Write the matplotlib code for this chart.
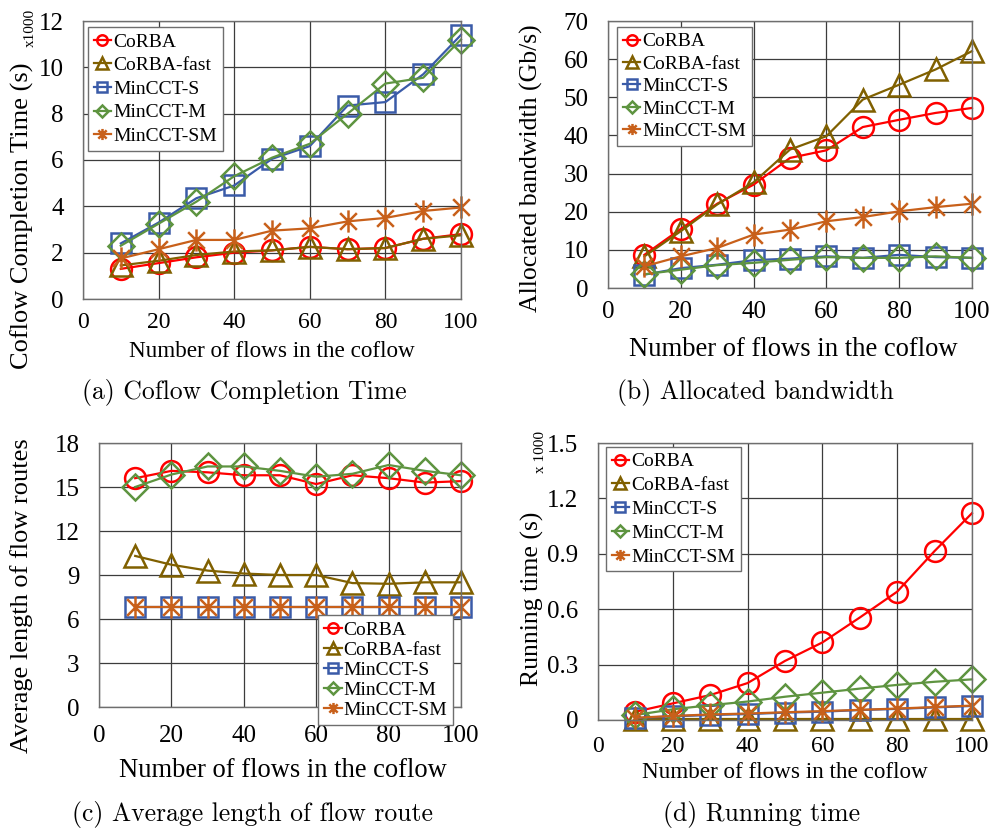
import numpy as np
import matplotlib
matplotlib.use("Agg")
import matplotlib.pyplot as plt
from matplotlib.path import Path

plt.rcParams["font.family"] = ["Liberation Serif", "DejaVu Serif"]

flows = [10, 20, 30, 40, 50, 60, 70, 80, 90, 100]
names = ["CoRBA", "CoRBA-fast", "MinCCT-S", "MinCCT-M", "MinCCT-SM"]

# (a) coflow completion time, x1000 s
cct_corba = [1.3, 1.55, 1.8, 2.0, 2.1, 2.25, 2.15, 2.2, 2.6, 2.8]
cct_fast = [1.45, 1.65, 1.9, 2.05, 2.1, 2.25, 2.15, 2.2, 2.6, 2.75]
cct_s = [2.4, 3.3, 4.35, 4.9, 6.05, 6.6, 8.35, 8.5, 9.7, 11.4]
cct_m = [2.3, 3.25, 4.2, 5.3, 6.1, 6.7, 8.0, 9.3, 9.55, 11.2]
cct_sm = [1.75, 2.15, 2.55, 2.55, 2.95, 3.05, 3.35, 3.5, 3.8, 3.95]

# (b) allocated bandwidth, Gb/s
bw_corba = [8.7, 15.5, 22.1, 27.1, 34.1, 36.1, 42.2, 44.1, 45.9, 47.2]
bw_fast = [8.3, 14.9, 21.9, 27.7, 36.3, 39.8, 49.4, 53.3, 57.3, 62.1]
bw_s = [3.5, 5.2, 6.1, 7.3, 7.7, 8.3, 7.9, 8.7, 8.1, 7.9]
bw_m = [3.6, 4.8, 6.0, 6.6, 7.4, 8.1, 7.9, 7.9, 8.3, 7.9]
bw_sm = [5.7, 8.3, 10.5, 14.0, 15.3, 17.5, 18.6, 20.1, 21.2, 22.1]

# (c) average route length
len_corba = [15.6, 16.1, 16.0, 15.8, 15.8, 15.2, 15.8, 15.6, 15.3, 15.4]
len_fast = [10.3, 9.7, 9.3, 9.1, 9.0, 9.0, 8.45, 8.4, 8.5, 8.5]
len_s = [6.8, 6.8, 6.8, 6.8, 6.8, 6.8, 6.8, 6.8, 6.8, 6.8]
len_m = [15.0, 15.85, 16.4, 16.4, 16.1, 15.7, 15.9, 16.5, 16.1, 15.8]
len_sm = [6.8, 6.8, 6.8, 6.8, 6.8, 6.8, 6.8, 6.8, 6.8, 6.8]

# (d) running time, x1000 s
rt_corba = [0.045, 0.09, 0.135, 0.2, 0.32, 0.42, 0.555, 0.695, 0.915, 1.12]
rt_fast = [0.003, 0.003, 0.003, 0.003, 0.003, 0.003, 0.003, 0.003, 0.003, 0.003]
rt_s = [0.01, 0.02, 0.027, 0.032, 0.04, 0.045, 0.054, 0.06, 0.068, 0.076]
rt_m = [0.027, 0.058, 0.08, 0.1, 0.126, 0.148, 0.17, 0.19, 0.207, 0.22]
rt_sm = [0.012, 0.022, 0.03, 0.035, 0.042, 0.048, 0.055, 0.062, 0.07, 0.078]

colors = ["#FF0000", "#806000", "#3A5BA8", "#5E9440", "#C8601A"]

star = Path([(0, -1), (0, 1), (-0.75, -0.75), (0.75, 0.75), (-0.75, 0.75), (0.75, -0.75)],
			[Path.MOVETO, Path.LINETO, Path.MOVETO, Path.LINETO, Path.MOVETO, Path.LINETO])
markers = ["o", "^", "s", "D", star]
msizes = [15, 16, 15, 13, 16]

W, H = 995, 834
fig = plt.figure(figsize=(W / 100, H / 100), dpi=100)


def px_axes(l, t, r, b):
	return fig.add_axes([l / W, 1 - b / H, (r - l) / W, (b - t) / H])


def draw(ax, series, ymax, ystep, xfs, xpad):
	for ys, name, c, m, ms in zip(series, names, colors, markers, msizes):
		ax.plot(flows, ys, color=c, lw=1.6, marker=m, ms=ms, mfc="none",
				mec=c, mew=1.8, label=name, clip_on=False)
	ax.set_xlim(0, 100)
	ax.set_ylim(0, ymax)
	ax.set_xticks(range(0, 101, 20))
	ax.set_yticks(np.arange(0, ymax + ystep / 2, ystep))
	ax.grid(True, color="#3c3c3c", lw=0.9)
	ax.set_axisbelow(True)
	for sp in ax.spines.values():
		sp.set_color("#6e6e6e")
		sp.set_linewidth(1.0)
	ax.tick_params(length=0)
	ax.tick_params(axis="x", labelsize=xfs, pad=xpad)
	ax.tick_params(axis="y", labelsize=18, pad=14)


def legend(ax, loc, anchor, ls):
	leg = ax.legend(loc=loc, bbox_to_anchor=anchor, borderaxespad=0, fontsize=14,
					markerscale=0.5, handlelength=0.9, handletextpad=0.1,
					labelspacing=ls, borderpad=0.3, fancybox=False, framealpha=1)
	leg.get_frame().set_edgecolor("#6e6e6e")
	leg.get_frame().set_linewidth(1.0)


def labels(ax, xl, xfs, xpos, yl, yfs, ypos):
	ax.set_xlabel(xl, fontsize=xfs)
	ax.set_ylabel(yl, fontsize=yfs)
	ax.xaxis.set_label_coords(*xpos)
	ax.yaxis.set_label_coords(*ypos)
	ax.xaxis.label.set_va("center")
	ax.yaxis.label.set_va("center")


xname = "Number of flows in the coflow"

ax_a = px_axes(83, 21, 461, 299)
draw(ax_a, [cct_corba, cct_fast, cct_s, cct_m, cct_sm], 12, 2, 17, 9)
legend(ax_a, "upper left", (0.013, 0.978), 0.31)
labels(ax_a, xname, 16.7, (0.5, -0.19), "Coflow Completion Time (s)", 19, (-0.161, 0.30))
fig.text(30 / W, 1 - 28 / H, "x1000", rotation=90, ha="center", va="center", fontsize=11)

ax_b = px_axes(608, 21, 972, 288)
draw(ax_b, [bw_corba, bw_fast, bw_s, bw_m, bw_sm], 70, 10, 18, 9)
legend(ax_b, "upper left", (0.025, 0.978), 0.25)
labels(ax_b, xname, 19.2, (0.508, -0.232), "Allocated bandwidth (Gb/s)", 18.5, (-0.209, 0.45))

ax_c = px_axes(99, 443, 461, 707)
draw(ax_c, [len_corba, len_fast, len_s, len_m, len_sm], 18, 3, 18, 13)
legend(ax_c, "lower right", (0.978, -0.068), 0.13)
labels(ax_c, xname, 19.1, (0.508, -0.239), "Average length of flow routes", 19, (-0.213, 0.42))

ax_d = px_axes(598, 443, 972, 720)
draw(ax_d, [rt_corba, rt_fast, rt_s, rt_m, rt_sm], 1.5, 0.3, 17, 11.5)
ax_d.set_yticklabels(["0", "0.3", "0.6", "0.9", "1.2", "1.5"])
legend(ax_d, "upper left", (0.021, 0.986), 0.32)
labels(ax_d, xname, 16.7, (0.5, -0.188), "Running time (s)", 18.5, (-0.176, 0.437))
fig.text(540 / W, 1 - 452 / H, "x 1000", rotation=90, ha="center", va="center", fontsize=11)

captions = ["(a) Coflow Completion Time", "(b) Allocated bandwidth",
			"(c) Average length of flow route", "(d) Running time"]
cap_pos = [(244, 393), (755, 393), (253, 815), (762, 815)]
for txt, (cx, cy) in zip(captions, cap_pos):
	fig.text(cx / W, 1 - cy / H, txt, ha="center", va="center", fontsize=18.5,
			 family=["cmr10", "DejaVu Serif"])

fig.savefig("out.png", dpi=100)
